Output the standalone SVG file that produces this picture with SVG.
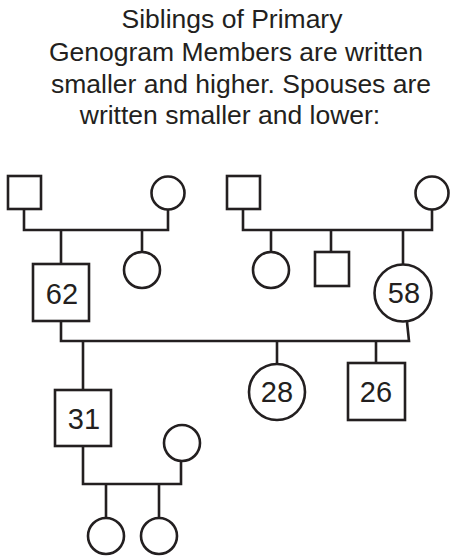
<svg xmlns="http://www.w3.org/2000/svg" width="450" height="558" viewBox="0 0 450 558">
<style>
.title{font-family:"Liberation Sans",Arial,sans-serif;font-size:26.5px;fill:#231f20;text-anchor:middle}
.num{font-family:"Liberation Sans",Arial,sans-serif;font-size:29px;fill:#231f20;text-anchor:middle}
.shape{fill:#fff;stroke:#231f20;stroke-width:2.6}
.line{fill:none;stroke:#231f20;stroke-width:2.6;stroke-linejoin:miter}
</style>
<rect width="450" height="558" fill="#fff"/>
<g id="title">
<text class="title" x="232" y="28">Siblings of Primary</text>
<text class="title" x="236" y="61">Genogram Members are written</text>
<text class="title" x="241" y="93">smaller and higher. Spouses are</text>
<text class="title" x="230" y="124">written smaller and lower:</text>
</g>
<g id="connectors">
<polyline class="line" points="24,209 24,230 168,230 168,209"/>
<line class="line" x1="61" y1="230" x2="61" y2="264"/>
<line class="line" x1="142" y1="230" x2="142" y2="252"/>
<polyline class="line" points="243,209 243,230 432,230 432,209"/>
<line class="line" x1="271" y1="230" x2="271" y2="252"/>
<line class="line" x1="331" y1="230" x2="331" y2="252"/>
<line class="line" x1="403" y1="230" x2="403" y2="264"/>
<polyline class="line" points="61,321 61,341 409,341 407,322"/>
<line class="line" x1="83" y1="341" x2="83" y2="390"/>
<line class="line" x1="277" y1="341" x2="277" y2="364"/>
<line class="line" x1="376" y1="341" x2="376" y2="363"/>
<polyline class="line" points="83,446 83,484 181,484 181,461"/>
<line class="line" x1="106" y1="484" x2="106" y2="518"/>
<line class="line" x1="159" y1="484" x2="159" y2="518"/>
</g>
<g id="pgf-father"><rect class="shape" x="8" y="176" width="33" height="33"/></g>
<g id="pgf-mother"><circle class="shape" cx="168" cy="193" r="16.5"/></g>
<g id="father-62"><rect class="shape" x="33" y="264" width="56" height="57"/><text class="num" x="62" y="304">62</text></g>
<g id="father-sister"><circle class="shape" cx="142" cy="270" r="18"/></g>
<g id="mgf"><rect class="shape" x="227" y="176" width="33" height="33"/></g>
<g id="mgm"><circle class="shape" cx="432" cy="193" r="16.5"/></g>
<g id="mother-sister"><circle class="shape" cx="271" cy="270" r="18"/></g>
<g id="mother-brother"><rect class="shape" x="315" y="252" width="34" height="34"/></g>
<g id="mother-58"><circle class="shape" cx="403" cy="293" r="28.5"/><text class="num" x="404" y="303">58</text></g>
<g id="son-31"><rect class="shape" x="55" y="390" width="56" height="56"/><text class="num" x="84" y="429">31</text></g>
<g id="daughter-28"><circle class="shape" cx="277" cy="392" r="28"/><text class="num" x="277" y="402">28</text></g>
<g id="son-26"><rect class="shape" x="348" y="363" width="57" height="57"/><text class="num" x="376" y="402">26</text></g>
<g id="spouse-31"><circle class="shape" cx="182" cy="443" r="18"/></g>
<g id="grandchild-1"><circle class="shape" cx="106" cy="536" r="18"/></g>
<g id="grandchild-2"><circle class="shape" cx="159" cy="536" r="18"/></g>
</svg>
